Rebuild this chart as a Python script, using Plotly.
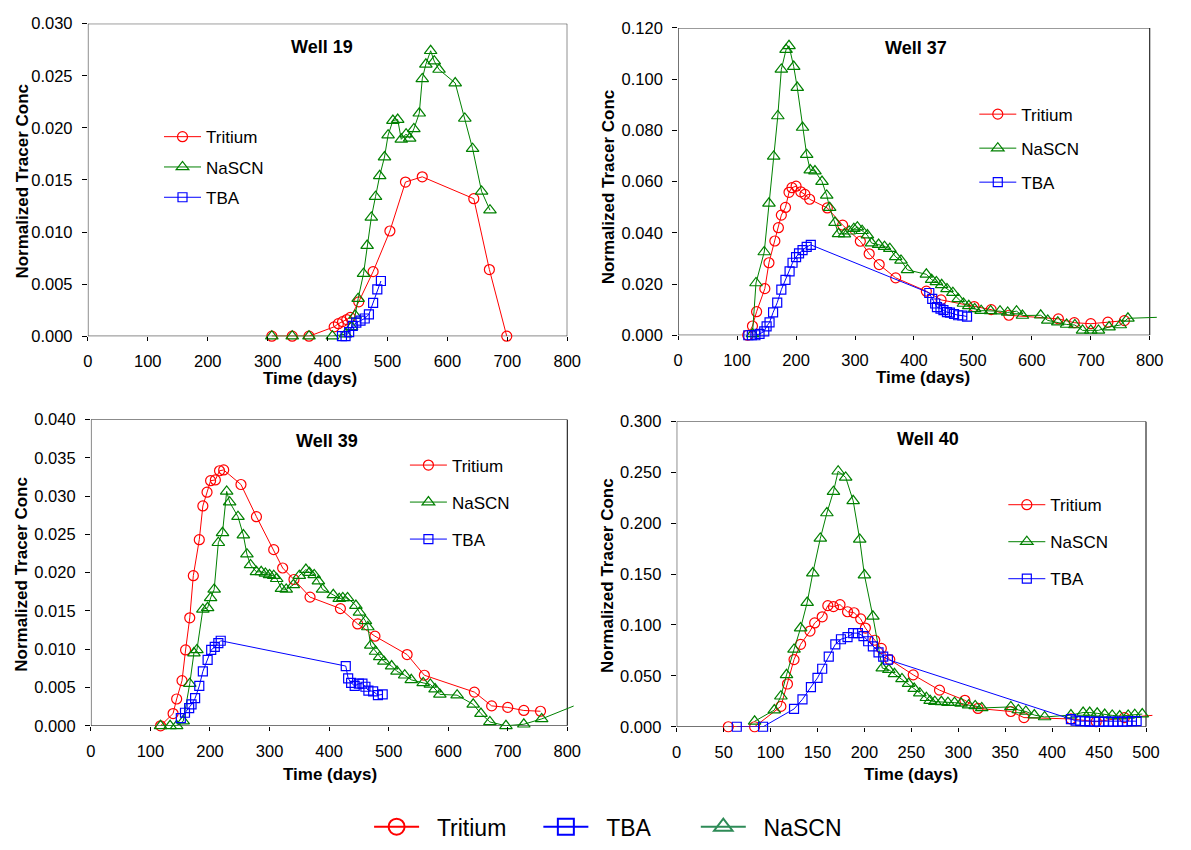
import plotly.graph_objects as go

# ---------------- data: normalized tracer concentration vs time (days) ----------------
# Well 19
w19_tritium_days = [307, 341, 369, 411, 418, 425, 432, 438, 452, 476, 504, 530, 558, 644, 670, 699]
w19_tritium_conc = [0, 0, 0, 0.0009, 0.0012, 0.0014, 0.0016, 0.0018, 0.0033, 0.0062, 0.0101, 0.0148,
                    0.0153, 0.0132, 0.0064, 0.0000]
w19_nascn_days = [307, 341, 369, 408, 430, 440, 446, 451, 460, 466, 473, 480, 487, 495, 501, 509, 517,
                  523, 531, 537, 544, 553, 558, 564, 572, 578, 586, 613, 629, 642, 657, 671]
w19_nascn_conc = [0, 0, 0, 0, 0.0002, 0.0009, 0.0020, 0.0036, 0.0060, 0.0087, 0.0114, 0.0134, 0.0154,
                  0.0172, 0.0193, 0.0207, 0.0208, 0.0189, 0.0194, 0.0190, 0.0199, 0.0214, 0.0247, 0.0261,
                  0.0274, 0.0264, 0.0256, 0.0243, 0.0209, 0.0180, 0.0139, 0.0121]
w19_tba_days = [424, 430, 436, 442, 448, 455, 462, 469, 476, 483, 489]
w19_tba_conc = [0, 0, 0.0004, 0.0010, 0.0013, 0.0015, 0.0017, 0.0021, 0.0032, 0.0045, 0.0053]

# Well 37
w37_tritium_days = [118, 126, 133, 147, 154, 164, 170, 175, 182, 188, 193, 200, 208, 215, 223, 253, 279,
                    309, 324, 341, 369, 421, 446, 502, 531, 561, 645, 672, 700, 729, 757]
w37_tritium_conc = [0, 0.0036, 0.0092, 0.0182, 0.0283, 0.0368, 0.0420, 0.0469, 0.0499, 0.0558, 0.0576,
                    0.0582, 0.0560, 0.0550, 0.0531, 0.0497, 0.0430, 0.0367, 0.0318, 0.0276, 0.0224,
                    0.0172, 0.0138, 0.0112, 0.0100, 0.0078, 0.0064, 0.0049, 0.0045, 0.0051, 0.0057]
w37_nascn_days = [126, 132, 146, 154, 162, 169, 175, 183, 188, 196, 202, 211, 218, 224, 232, 244, 252,
                  257, 266, 272, 282, 290, 298, 304, 312, 321, 328, 340, 350, 359, 369, 378, 389, 421,
                  430, 438, 447, 456, 466, 475, 484, 493, 503, 514, 530, 546, 559, 574, 584, 615, 627,
                  644, 659, 673, 686, 700, 713, 731, 750, 763, 850]
w37_nascn_conc = [0.0005, 0.0204, 0.0325, 0.0515, 0.0698, 0.0856, 0.1038, 0.1115, 0.1130, 0.1049,
                  0.0967, 0.0811, 0.0705, 0.0645, 0.0641, 0.0600, 0.0546, 0.0498, 0.0440, 0.0396,
                  0.0395, 0.0406, 0.0416, 0.0422, 0.0408, 0.0391, 0.0360, 0.0354, 0.0346, 0.0338,
                  0.0306, 0.0292, 0.0255, 0.0238, 0.0217, 0.0208, 0.0197, 0.0181, 0.0166, 0.0142,
                  0.0124, 0.0115, 0.0103, 0.0096, 0.0095, 0.0094, 0.0089, 0.0094, 0.0077, 0.0078,
                  0.0058, 0.0051, 0.0042, 0.0040, 0.0019, 0.0019, 0.0019, 0.0032, 0.0040, 0.0066,
                  0.0073]
w37_tba_days = [119, 125, 131, 138, 146, 150, 155, 161, 168, 175, 182, 189, 194, 200, 205, 211, 218, 225,
                426, 431, 436, 439, 445, 450, 456, 461, 468, 475, 482, 490]
w37_tba_conc = [0, 0, 0, 0.0005, 0.0015, 0.0035, 0.0050, 0.0089, 0.0127, 0.0178, 0.0216, 0.0249, 0.0283,
                0.0305, 0.0320, 0.0332, 0.0345, 0.0353, 0.0165, 0.0142, 0.0124, 0.0110, 0.0104, 0.0098,
                0.0090, 0.0088, 0.0083, 0.0078, 0.0077, 0.0073]

# Well 39
w39_tritium_days = [117, 138, 144, 153, 159, 166, 172, 182, 188, 195, 201, 209, 216, 223, 252, 278, 307,
                    322, 341, 368, 419, 448, 477, 531, 560, 644, 673, 700, 727, 755]
w39_tritium_conc = [0, 0.0016, 0.0035, 0.0059, 0.0099, 0.0141, 0.0196, 0.0243, 0.0287, 0.0305, 0.0320,
                    0.0321, 0.0333, 0.0334, 0.0315, 0.0273, 0.0230, 0.0206, 0.0191, 0.0168, 0.0153,
                    0.0133, 0.0117, 0.0093, 0.0066, 0.0044, 0.0026, 0.0024, 0.0020, 0.0019]
w39_nascn_days = [117, 133, 144, 155, 166, 173, 178, 188, 196, 201, 207, 214, 221, 228, 233, 247, 256,
                  262, 268, 278, 286, 293, 300, 307, 312, 320, 328, 340, 350, 361, 367, 375, 382, 389,
                  407, 417, 423, 431, 445, 451, 461, 465, 470, 478, 485, 492, 505, 514, 527, 538, 558,
                  570, 578, 586, 615, 642, 655, 670, 697, 727, 757, 840]
w39_nascn_conc = [0, 0, 0, 0.0006, 0.0055, 0.0095, 0.0099, 0.0152, 0.0154, 0.0167, 0.0178, 0.0239,
                  0.0252, 0.0306, 0.0292, 0.0273, 0.0249, 0.0224, 0.0210, 0.0201, 0.0201, 0.0199,
                  0.0197, 0.0196, 0.0192, 0.0179, 0.0178, 0.0184, 0.0196, 0.0204, 0.0200, 0.0197,
                  0.0189, 0.0178, 0.0171, 0.0166, 0.0167, 0.0167, 0.0157, 0.0148, 0.0137, 0.0129,
                  0.0105, 0.0097, 0.0090, 0.0084, 0.0078, 0.0071, 0.0066, 0.0060, 0.0056, 0.0054,
                  0.0048, 0.0041, 0.0040, 0.0028, 0.0016, 0.0005, 0.0000, 0.0002, 0.0009, 0.0035]
w39_tba_days = [151, 158, 165, 169, 175, 182, 188, 196, 202, 208, 214, 218, 428, 432, 437, 443, 450, 456,
                461, 466, 474, 482, 490]
w39_tba_conc = [0.0010, 0.0017, 0.0023, 0.0028, 0.0036, 0.0052, 0.0071, 0.0086, 0.0099, 0.0103, 0.0108,
                0.0111, 0.0078, 0.0062, 0.0056, 0.0052, 0.0055, 0.0055, 0.0051, 0.0046, 0.0045, 0.0040,
                0.0041]

# Well 40
w40_tritium_days = [55, 83, 111, 118, 125, 132, 142, 147, 155, 161, 167, 174, 182, 189, 196, 201, 211,
                    218, 227, 252, 280, 307, 321, 356, 370, 420, 447, 477, 530]
w40_tritium_conc = [0, 0, 0.020, 0.042, 0.066, 0.081, 0.094, 0.102, 0.108, 0.119, 0.118, 0.120, 0.113,
                    0.112, 0.106, 0.097, 0.085, 0.077, 0.066, 0.051, 0.036, 0.026, 0.018, 0.015, 0.009,
                    0.0077, 0.005, 0.009, 0.0129]
w40_nascn_days = [83, 104, 111, 117, 125, 132, 139, 145, 153, 160, 167, 172, 180, 188, 195, 200, 209,
                  219, 226, 232, 240, 247, 253, 259, 266, 270, 275, 282, 289, 296, 303, 311, 318, 325,
                  356, 364, 372, 381, 392, 420, 433, 440, 448, 456, 464, 472, 481, 488, 496]
w40_nascn_conc = [0.0054, 0.0164, 0.0300, 0.0510, 0.0760, 0.0970, 0.1220, 0.1510, 0.1850, 0.2100,
                  0.2310, 0.2510, 0.2450, 0.2220, 0.1840, 0.1490, 0.1085, 0.0577, 0.0560, 0.0520,
                  0.0470, 0.0423, 0.0375, 0.0330, 0.0285, 0.0256, 0.0247, 0.0245, 0.0237, 0.0237,
                  0.0230, 0.0212, 0.0205, 0.0185, 0.0195, 0.0165, 0.0150, 0.0115, 0.0096, 0.0115,
                  0.0140, 0.0140, 0.0132, 0.0120, 0.0112, 0.0105, 0.0112, 0.0118, 0.0125]
w40_tba_days = [64, 92, 125, 134, 143, 150, 155, 162, 169, 175, 182, 188, 193, 199, 204, 209, 215, 220, 225,
                420, 425, 430, 435, 440, 445, 450, 455, 460, 465, 470, 475, 480, 485, 490]
w40_tba_conc = [0, 0, 0.0175, 0.027, 0.039, 0.048, 0.057, 0.069, 0.081, 0.086, 0.088, 0.092, 0.092,
                0.089, 0.084, 0.079, 0.073, 0.069, 0.066, 0.0075, 0.006, 0.0055, 0.0055, 0.005, 0.005,
                0.0048, 0.005, 0.005, 0.0048, 0.005, 0.005, 0.0052, 0.0055, 0.0055]

# ---------------- axis ticks ----------------
days_ticks_800 = [0, 100, 200, 300, 400, 500, 600, 700, 800]
days_ticks_500 = [0, 50, 100, 150, 200, 250, 300, 350, 400, 450, 500]
conc_ticks_030 = [0.000, 0.005, 0.010, 0.015, 0.020, 0.025, 0.030]
conc_ticks_120 = [0.000, 0.020, 0.040, 0.060, 0.080, 0.100, 0.120]
conc_ticks_040 = [0.000, 0.005, 0.010, 0.015, 0.020, 0.025, 0.030, 0.035, 0.040]
conc_ticks_300 = [0.000, 0.050, 0.100, 0.150, 0.200, 0.250, 0.300]

tracer_names = ["Tritium", "NaSCN", "TBA"]

# ---------------- styling ----------------
W, H = 1191, 850
FONT = "Liberation Sans, Arial, Helvetica, sans-serif"
RED, GREEN, BLUE = "#FF0000", "#008000", "#0000FF"
KEY_GREEN = "#2E8B57"
TICK_SIZE = 16.5
STYLE = {
    "Tritium": dict(color=RED, symbol="circle-open", size=10),
    "NaSCN": dict(color=GREEN, symbol="triangle-up-open", size=11),
    "TBA": dict(color=BLUE, symbol="square-open", size=9),
}

# panel layout in pixels: frame left/right (x=0 and last tick), top/bottom, visible x extent
panels = [
    dict(title="Well 19", frame=(84.2, 571.4, 15.0, 334.3), xmax=800, xend=800,
         xticks=days_ticks_800, yticks=conc_ticks_030,
         series=[(w19_tritium_days, w19_tritium_conc), (w19_nascn_days, w19_nascn_conc),
                 (w19_tba_days, w19_tba_conc)],
         title_pos=(322.6, 39), xlab_pos=(310.2, 377), ylab_pos=(17.6, 176),
         legend=dict(left=156.5, top=112.5, gap=5.2)),
    dict(title="Well 37", frame=(684.1, 1163.3, 19.3, 333.3), xmax=800, xend=812,
         xticks=days_ticks_800, yticks=conc_ticks_120,
         series=[(w37_tritium_days, w37_tritium_conc), (w37_nascn_days, w37_nascn_conc),
                 (w37_tba_days, w37_tba_conc)],
         title_pos=(925.6, 40), xlab_pos=(932.5, 376), ylab_pos=(613, 182),
         legend=dict(left=985, top=89.5, gap=8.9)),
    dict(title="Well 39", frame=(87.3, 571.4, 419.3, 732.3), xmax=800, xend=810.7,
         xticks=days_ticks_800, yticks=conc_ticks_040,
         series=[(w39_tritium_days, w39_tritium_conc), (w39_nascn_days, w39_nascn_conc),
                 (w39_tba_days, w39_tba_conc)],
         title_pos=(327.6, 441), xlab_pos=(330, 782), ylab_pos=(17.2, 577),
         legend=dict(left=406.4, top=448, gap=11.9)),
    dict(title="Well 40", frame=(682.6, 1159.5, 421.3, 733.3), xmax=500, xend=506.8,
         xticks=days_ticks_500, yticks=conc_ticks_300,
         series=[(w40_tritium_days, w40_tritium_conc), (w40_nascn_days, w40_nascn_conc),
                 (w40_tba_days, w40_tba_conc)],
         title_pos=(937.7, 439), xlab_pos=(921, 782), ylab_pos=(613, 579),
         legend=dict(left=1014.5, top=488.5, gap=11.9)),
]

fig = go.Figure()
layout = dict(
    width=W, height=H, margin=dict(l=0, r=0, t=0, b=0, pad=0),
    paper_bgcolor="white", plot_bgcolor="white",
    font=dict(family=FONT, size=16, color="black"),
    showlegend=True, annotations=[], shapes=[],
)

for i, p in enumerate(panels):
    n = "" if i == 0 else str(i + 1)
    xa, ya = "x" + n, "y" + n
    left, right, top, bottom = p["frame"]
    ppu = (right - left) / p["xmax"]
    x_end_px = left + p["xend"] * ppu
    ymax = p["yticks"][-1]
    leg_name = "legend" + n

    for k, (name, (xs, ys)) in enumerate(zip(tracer_names, p["series"])):
        st = STYLE[name]
        fig.add_trace(go.Scatter(
            x=xs, y=ys, name=name, mode="lines+markers",
            line=dict(color=st["color"], width=1),
            marker=dict(symbol=st["symbol"], size=st["size"], color=st["color"],
                        line=dict(width=1.2, color=st["color"])),
            xaxis=xa, yaxis=ya, legend=leg_name, legendgroup=f"{p['title']}-{name}",
            legendrank=k + 1, cliponaxis=False,
        ))

    layout["xaxis" + n] = dict(
        domain=[left / W, x_end_px / W], range=[0, p["xend"]], anchor=ya,
        tickvals=p["xticks"], ticktext=[str(t) for t in p["xticks"]],
        ticks="outside", ticklen=4, tickwidth=1, tickcolor="black",
        showline=False, showgrid=False, zeroline=False, ticklabelstandoff=6,
        tickfont=dict(family=FONT, size=TICK_SIZE, color="black"), fixedrange=True,
    )
    layout["yaxis" + n] = dict(
        domain=[1 - bottom / H, 1 - top / H], range=[0, ymax], anchor=xa,
        tickvals=p["yticks"], ticktext=[f"{t:.3f}" for t in p["yticks"]],
        ticks="outside", ticklen=5, tickwidth=1, tickcolor="black",
        showline=False, showgrid=False, zeroline=False, ticklabelstandoff=6,
        tickfont=dict(family=FONT, size=TICK_SIZE, color="black"), fixedrange=True,
    )
    # plot-area frame
    layout["shapes"].append(dict(
        type="rect", xref=xa, yref=ya, x0=0, x1=p["xmax"], y0=0, y1=ymax,
        line=dict(color="black", width=1), layer="below",
    ))
    # panel title and axis titles
    tx, ty = p["title_pos"]
    layout["annotations"].append(dict(
        text=f"<b>{p['title']}</b>", x=tx / W, y=1 - ty / H, xref="paper", yref="paper",
        showarrow=False, xanchor="center", yanchor="middle",
        font=dict(family=FONT, size=18, color="black")))
    lx, ly = p["xlab_pos"]
    layout["annotations"].append(dict(
        text="<b>Time (days)</b>", x=lx / W, y=1 - ly / H, xref="paper", yref="paper",
        showarrow=False, xanchor="center", yanchor="middle",
        font=dict(family=FONT, size=17, color="black")))
    vx, vy = p["ylab_pos"]
    layout["annotations"].append(dict(
        text="<b>Normalized Tracer Conc</b>", x=vx / W, y=1 - vy / H, xref="paper", yref="paper",
        showarrow=False, xanchor="center", yanchor="middle", textangle=-90,
        font=dict(family=FONT, size=17, color="black")))
    lg = p["legend"]
    layout[leg_name] = dict(
        x=lg["left"] / W, y=1 - lg["top"] / H, xanchor="left", yanchor="top",
        orientation="v", bgcolor="rgba(0,0,0,0)", borderwidth=0, itemwidth=37,
        tracegroupgap=lg["gap"], font=dict(family=FONT, size=17, color="black"),
    )

# shared key along the bottom of the figure
bottom_key = [
    ("Tritium", RED, "circle-open", 375),
    ("TBA", BLUE, "square-open", 547),
    ("NaSCN", KEY_GREEN, "triangle-up-open", 707),
]
for j, (name, color, symbol, line_start) in enumerate(bottom_key):
    leg_name = f"legend{5 + j}"
    fig.add_trace(go.Scatter(
        x=[None], y=[None], name="\u00a0\u00a0" + name, mode="lines+markers",
        line=dict(color=color, width=2),
        marker=dict(symbol=symbol, size=16, color=color, line=dict(width=2, color=color)),
        xaxis="x", yaxis="y", legend=leg_name, hoverinfo="skip",
    ))
    layout[leg_name] = dict(
        x=(line_start - 5) / W, y=1 - 813.5 / H, xanchor="left", yanchor="top",
        orientation="v", bgcolor="rgba(0,0,0,0)", borderwidth=0, itemwidth=45,
        font=dict(family=FONT, size=23, color="black"),
    )

fig.update_layout(**layout)
# the figure is exactly window-sized, so drop the page's default body margin
fig.write_html(
    "out.html",
    config={"responsive": False, "displayModeBar": False},
    post_script="document.body.style.margin='0';document.body.style.overflow='hidden';",
)
